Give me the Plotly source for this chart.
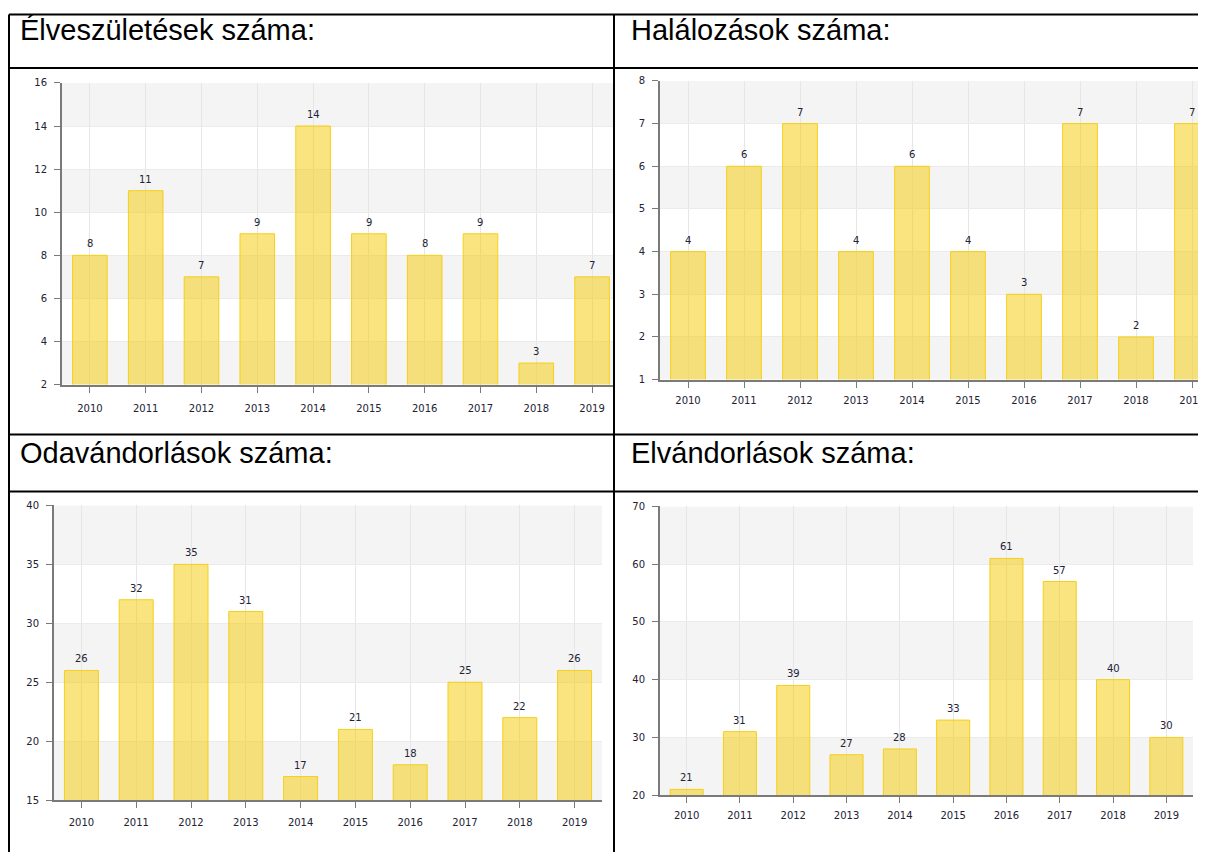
import plotly.graph_objects as go

W, H = 1206, 852
OFFX, OFFY, SY = 8, 13, 0.987  # observed placement of the figure in the page capture

years = ["2010", "2011", "2012", "2013", "2014", "2015", "2016", "2017", "2018", "2019"]

titles = ["Élveszületések száma:", "Halálozások száma:", "Odavándorlások száma:", "Elvándorlások száma:"]

births = [8, 11, 7, 9, 14, 9, 8, 9, 3, 7]
deaths = [4, 6, 7, 4, 6, 4, 3, 7, 2, 7]
immigration = [26, 32, 35, 31, 17, 21, 18, 25, 22, 26]
emigration = [21, 31, 39, 27, 28, 33, 61, 57, 40, 30]

ticks_births = [2, 4, 6, 8, 10, 12, 14, 16]
ticks_deaths = [1, 2, 3, 4, 5, 6, 7, 8]
ticks_immigration = [15, 20, 25, 30, 35, 40]
ticks_emigration = [20, 30, 40, 50, 60, 70]

series = [births, deaths, immigration, emigration]
tick_sets = [ticks_births, ticks_deaths, ticks_immigration, ticks_emigration]

# pixel boxes of plot areas (screen coords): (left, right, top, bottom), x range end, x label standoff
boxes = [
    (62, 613, 82, 384, 9.375, 7),
    (660, 1206, 80, 379, 9.25, 4),
    (54, 602, 505, 800, 9.5, 6),
    (660, 1193, 506, 795, 9.5, 4),
]


def px_x(p):
    return min(max((p - OFFX) / W, 0), 1)


def px_y(p):
    f = (p - OFFY) / SY
    return min(max(1 - f / H, 0), 1)


fig = go.Figure()
layout = dict(
    width=W, height=H, margin=dict(l=0, r=0, t=0, b=0),
    paper_bgcolor="white", plot_bgcolor="rgba(0,0,0,0)",
    showlegend=False, bargap=0.38,
)
shapes = []
annotations = []

tick_font = dict(family="DejaVu Sans", size=10, color="#222233")

for i, (vals, ticks, box) in enumerate(zip(series, tick_sets, boxes)):
    n = "" if i == 0 else str(i + 1)
    xa, ya = "x" + n, "y" + n
    l, r, t, b, xend, xstand = box
    fig.add_trace(go.Bar(
        x=years, y=vals, xaxis=xa, yaxis=ya,
        marker=dict(color="rgba(245,202,0,0.5)", line=dict(color="#F5CF1A", width=1)),
        hoverinfo="x+y",
    ))
    layout["xaxis" + n] = dict(
        domain=[px_x(l), px_x(r)], anchor=ya, type="category",
        range=[-0.5, xend], showline=True, linecolor="#7a7a7a", linewidth=2,
        ticks="outside", ticklen=6, tickcolor="#7a7a7a", tickwidth=1,
        showgrid=True, gridcolor="#e6e6e6", gridwidth=1,
        tickfont=tick_font, ticklabelstandoff=xstand, fixedrange=True,
    )
    layout["yaxis" + n] = dict(
        domain=[px_y(b), px_y(t)], anchor=xa,
        range=[ticks[0], ticks[-1]], tickvals=ticks,
        showline=True, linecolor="#7a7a7a", linewidth=2,
        ticks="outside", ticklen=6, tickcolor="#7a7a7a", tickwidth=1,
        showgrid=True, gridcolor="#ebebeb", gridwidth=1, zeroline=False,
        tickfont=tick_font, ticklabelstandoff=5, fixedrange=True,
    )
    # alternating bands
    for k in range(0, len(ticks) - 1, 2):
        shapes.append(dict(
            type="rect", xref=xa + " domain", yref=ya,
            x0=0, x1=1, y0=ticks[k], y1=ticks[k + 1],
            fillcolor="#f4f4f4", line=dict(width=0), layer="below",
        ))
    # value labels
    for j, v in enumerate(vals):
        annotations.append(dict(
            x=j, y=v, xref=xa, yref=ya, text=str(v), showarrow=False,
            yanchor="bottom", yshift=4,
            font=dict(family="DejaVu Sans", size=10, color="#222233"),
        ))

# table headers
header_pos = [(18, 29), (629, 29), (18, 452), (629, 452)]
for txt, (hx, hy) in zip(titles, header_pos):
    annotations.append(dict(
        x=px_x(hx), y=px_y(hy), xref="paper", yref="paper", text=txt,
        showarrow=False, xanchor="left", yanchor="middle",
        font=dict(family="Liberation Sans, Arial", size=29, color="black"),
    ))

# table borders
line = dict(color="black", width=2)
top_y = 1 - 0.5 / H
for yy in [None, 67, 434, 491]:
    yp = top_y if yy is None else px_y(yy)
    shapes.append(dict(type="line", xref="paper", yref="paper",
                       x0=px_x(9), x1=1, y0=yp, y1=yp, line=line, layer="above"))
for xx in [9, 614]:
    shapes.append(dict(type="line", xref="paper", yref="paper",
                       x0=px_x(xx), x1=px_x(xx), y0=top_y, y1=0, line=line, layer="above"))

layout["shapes"] = shapes
layout["annotations"] = annotations
fig.update_layout(**layout)
fig.write_html("out.html")
